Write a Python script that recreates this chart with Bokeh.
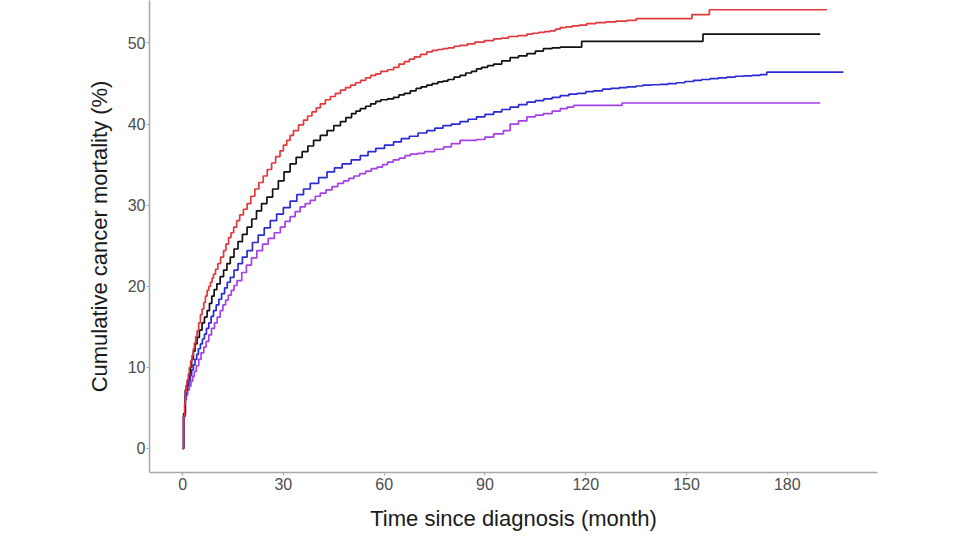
from bokeh.plotting import figure
from bokeh.models import Range1d, FixedTicker
from bokeh.embed import file_html
from bokeh.resources import INLINE

# ---- data (months, cumulative cancer mortality %) ----
red_t = [0, 0.3, 0.6, 0.8, 1.1, 1.3, 1.7, 2, 2.4, 2.8, 3.2, 3.5, 3.9, 4.3, 4.8, 5.3, 5.8,
         6.3, 6.8, 7.3, 7.8, 8.3, 8.8, 9.2, 9.8, 10.5, 11.3, 12.2, 12.9, 13.7, 14.4, 15.2,
         16.1, 17, 18.1, 19.2, 20.3, 21.5, 22.7, 24, 25.2, 26.5, 27.7, 29, 30, 31, 32, 33,
         34.5, 36, 37.2, 38.5, 39.8, 41, 42.5, 44, 45.5, 47, 48.5, 50, 51.5, 53, 54.5, 56,
         57.5, 59, 61, 62.8, 64.4, 66, 67.5, 69, 70.8, 72.7, 74.3, 76, 77.5, 79, 80.8,
         82.6, 84.8, 87, 89.8, 92.6, 94.8, 97, 99.8, 102.5, 104.2, 106, 107.7, 109.4, 111,
         112.4, 114.2, 116, 118, 120.3, 123, 126, 129, 132.3, 135, 151.6, 156.8, 191.8]
red_v = [0, 4, 5.5, 7, 7.8, 8.4, 9.2, 10, 10.8, 11.5, 12.3, 13, 13.8, 14.5, 15.5, 16.5,
         17.2, 18, 18.8, 19.5, 20, 20.5, 21, 21.5, 22.1, 22.8, 23.6, 24.4, 25.2, 26, 26.6,
         27.3, 28.1, 28.8, 29.5, 30.2, 31.1, 32, 32.8, 33.6, 34.4, 35.2, 36, 36.7, 37.4,
         38, 38.6, 39.2, 39.9, 40.5, 41, 41.5, 42, 42.5, 43, 43.4, 43.8, 44.2, 44.5, 44.8,
         45.1, 45.4, 45.7, 46, 46.2, 46.5, 46.7, 47, 47.4, 47.7, 48, 48.3, 48.6, 48.9,
         49.1, 49.2, 49.3, 49.4, 49.6, 49.7, 49.9, 50.1, 50.3, 50.5, 50.6, 50.8, 50.9,
         51.1, 51.2, 51.3, 51.4, 51.5, 51.7, 51.9, 52, 52.1, 52.2, 52.4, 52.5, 52.6, 52.7,
         52.8, 53.0, 53.5, 54.1, 54.1]

black_t = [0, 0.3, 0.8, 1.1, 1.5, 1.9, 2.3, 2.7, 3.2, 3.7, 4.3, 5, 5.8, 6.5, 7.3, 8, 8.7,
           9.4, 10.2, 11.2, 12.2, 13.2, 14.2, 15.3, 16.5, 17.8, 19.2, 20.6, 22, 23.5,
           25.1, 26.8, 28.5, 30.2, 32, 33.8, 35.6, 37.3, 39, 41, 43, 45, 47, 48.6, 50.3,
           51.6, 52.9, 54.5, 56, 57.5, 59, 61, 62.8, 64.4, 66, 67.8, 69.5, 71, 72.7, 74.3,
           76, 77.5, 79, 80.8, 82.6, 84.3, 86, 87.5, 89, 90.8, 92.6, 95, 97.5, 100, 102.5,
           105, 107.4, 110, 112.4, 118.8, 154.9, 189.8]
black_v = [0, 4.3, 7.2, 7.8, 8.5, 9.2, 10, 11, 12, 12.9, 13.7, 14.6, 15.5, 16.2, 17, 17.9,
           18.8, 19.6, 20.3, 21.2, 22, 22.8, 23.6, 24.6, 25.5, 26.4, 27.3, 28.3, 29.3,
           30.2, 31, 32, 33, 34.1, 35.1, 35.9, 36.6, 37.3, 38, 38.6, 39.2, 39.8, 40.3,
           40.8, 41.3, 41.6, 41.9, 42.2, 42.5, 42.8, 43, 43.1, 43.3, 43.6, 43.8, 44.1,
           44.4, 44.6, 44.8, 45, 45.2, 45.3, 45.5, 45.8, 46, 46.3, 46.5, 46.8, 47, 47.2,
           47.4, 47.8, 48.2, 48.4, 48.7, 49, 49.3, 49.4, 49.5, 50.2, 51.1, 51.1]

blue_t = [0, 0.3, 0.8, 1.1, 1.5, 1.9, 2.3, 2.7, 3.2, 3.7, 4.2, 4.7, 5.3, 5.9, 6.5, 7.1,
          7.8, 8.5, 9.2, 10, 10.8, 11.6, 12.5, 13.3, 14.2, 15.3, 16.5, 17.8, 19.2, 20.8,
          22.5, 24.3, 26.1, 28, 30, 32, 34, 36, 38, 40.5, 43, 45.2, 47.5, 50.2, 52.9, 55.2,
          57.5, 60.1, 62.8, 65.1, 67.5, 70.1, 72.7, 75.1, 77.5, 80, 82.6, 85, 87.5, 90,
          92.6, 95, 97.5, 100, 102.5, 105, 107.5, 110, 112.4, 115, 117.5, 120, 122.3, 125,
          127.5, 130, 132.3, 135, 137, 139.5, 142.2, 144.5, 147, 149.5, 152.1, 154.5, 157,
          159.5, 162, 164.5, 167, 169.5, 171.9, 173.9, 196.7]
blue_v = [0, 4, 6.5, 7.2, 7.8, 8.4, 9, 9.7, 10.3, 11, 11.6, 12.3, 12.9, 13.5, 14.1, 14.8,
          15.5, 16.3, 17, 17.7, 18.4, 19.1, 19.8, 20.5, 21.1, 22, 22.8, 23.6, 24.4, 25.4,
          26.3, 27.2, 28.1, 28.9, 29.7, 30.5, 31.3, 32, 32.7, 33.4, 34.1, 34.6, 35.1, 35.6,
          36.1, 36.6, 37, 37.4, 37.8, 38.2, 38.5, 38.9, 39.2, 39.5, 39.8, 40, 40.3, 40.6,
          40.9, 41.2, 41.5, 41.8, 42.1, 42.4, 42.7, 42.9, 43.1, 43.3, 43.5, 43.7, 43.8, 44,
          44.1, 44.3, 44.4, 44.5, 44.6, 44.7, 44.8, 44.85, 44.9, 45, 45.1, 45.25, 45.4,
          45.5, 45.6, 45.7, 45.8, 45.9, 45.95, 46, 46.1, 46.4, 46.4]

purple_t = [0, 0.3, 0.8, 1.1, 1.5, 2, 2.5, 3, 3.5, 4.1, 4.8, 5.5, 6.3, 7, 7.8, 8.6, 9.5,
            10.3, 11.2, 12, 12.8, 13.6, 14.5, 15.3, 16.2, 17.6, 19, 20.5, 22.1, 23.8, 25.5,
            27.3, 29.1, 30.5, 32, 33.5, 35, 36.5, 38, 39.5, 41, 42.7, 44.5, 46.2, 47.9,
            49.5, 51, 52.7, 54.5, 56.2, 57.9, 59.5, 61, 62.7, 64.5, 66.2, 67.8, 70, 72, 75,
            77.7, 80, 82.6, 87.5, 90, 92.6, 95.5, 97.5, 100, 102.5, 105, 107.4, 110, 112.4,
            114.5, 116.4, 130.8, 189.8]
purple_v = [0, 4, 6, 6.6, 7.2, 7.7, 8.3, 8.9, 9.5, 10.2, 11, 11.8, 12.5, 13.2, 14, 14.8,
            15.5, 16.2, 17, 17.7, 18.3, 18.9, 19.5, 20.1, 20.7, 21.7, 22.6, 23.5, 24.4,
            25.2, 25.9, 26.6, 27.3, 28, 28.6, 29.2, 29.8, 30.2, 30.6, 31.1, 31.5, 31.9,
            32.3, 32.7, 33, 33.3, 33.6, 33.9, 34.2, 34.5, 34.7, 35, 35.3, 35.6, 35.8, 36.1,
            36.3, 36.4, 36.6, 36.9, 37.2, 37.6, 38, 38.1, 38.4, 38.8, 39.2, 40, 40.4, 40.9,
            41.1, 41.3, 41.6, 41.9, 42.1, 42.3, 42.6, 42.6]

x_ticks = [0, 30, 60, 90, 120, 150, 180]
y_ticks = [0, 10, 20, 30, 40, 50]

p = figure(frame_width=728, frame_height=472, output_backend="svg",
           toolbar_location=None,
           x_range=Range1d(-9.85, 206.85), y_range=Range1d(-2.96, 55.24),
           min_border_left=149, min_border_top=0, min_border_right=60,
           min_border_bottom=60)
p.outline_line_color = None
p.grid.grid_line_color = None
p.background_fill_color = "white"

series = [
    (purple_t, purple_v, "#a640e6"),
    (blue_t, blue_v, "#2b2bd6"),
    (black_t, black_v, "#111111"),
    (red_t, red_v, "#e2383c"),
]
for t, v, c in series:
    p.step(t, v, mode="after", line_color=c, line_width=1.7)

for ax in (p.xaxis[0], p.yaxis[0]):
    ax.axis_line_color = "#a8a8a8"
    ax.axis_line_width = 1.5
    ax.major_tick_line_color = "#a8a8a8"
    ax.major_tick_line_width = 1.2
    ax.major_tick_out = 3
    ax.major_tick_in = 0
    ax.minor_tick_line_color = None
    ax.major_label_text_font = "Liberation Sans"
    ax.major_label_text_font_size = "16px"
    ax.major_label_text_color = "#4d4d4d"
    ax.axis_label_text_font = "Liberation Sans"
    ax.axis_label_text_font_size = "22px"
    ax.axis_label_text_font_style = "normal"
    ax.axis_label_text_color = "#1a1a1a"

p.xaxis[0].ticker = FixedTicker(ticks=x_ticks)
p.yaxis[0].ticker = FixedTicker(ticks=y_ticks)
p.xaxis[0].axis_label = "Time since diagnosis (month)"
p.yaxis[0].axis_label = "Cumulative cancer mortality (%)"
p.xaxis[0].major_label_standoff = 2
p.yaxis[0].major_label_standoff = 1
p.xaxis[0].axis_label_standoff = 13
p.yaxis[0].axis_label_standoff = 13

open("out.html", "w").write(file_html(p, INLINE))
